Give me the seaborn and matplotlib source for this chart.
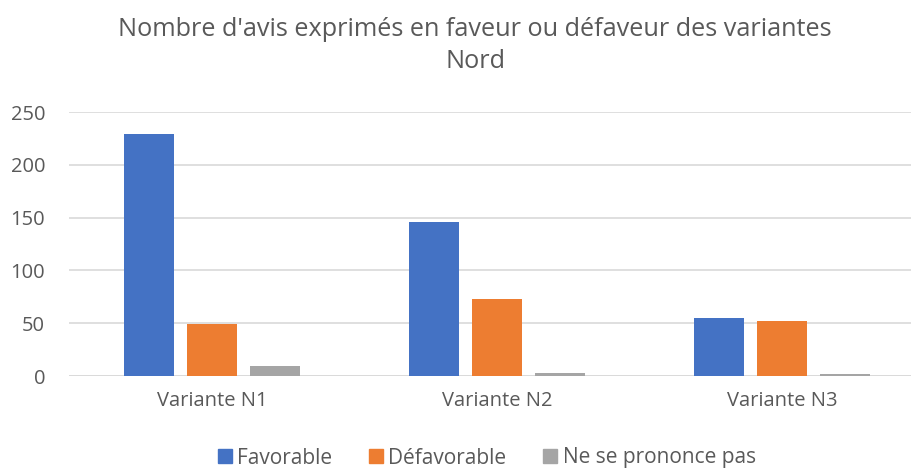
import matplotlib
matplotlib.use("Agg")
import matplotlib.pyplot as plt
import seaborn as sns
import pandas as pd
from matplotlib.lines import Line2D

categories = ["Variante N1", "Variante N2", "Variante N3"]
series = ["Favorable", "Défavorable", "Ne se prononce pas"]
favorable = [229, 146, 55]
defavorable = [49, 73, 52]
nsp = [9, 3, 2]
colors = ["#4472C4", "#ED7D31", "#A5A5A5"]

rows = []
for i, c in enumerate(categories):
    for s, vals in zip(series, [favorable, defavorable, nsp]):
        rows.append({"cat": c, "serie": s, "val": vals[i]})
df = pd.DataFrame(rows)

sns.set_theme(style="white")
plt.rcParams["font.family"] = ["Open Sans", "DejaVu Sans"]
txt = "#595959"

fig = plt.figure(figsize=(9.12, 4.70), dpi=100)
ax = fig.add_axes([69.5/912, 1-376/470, 855/912, (376-112)/470])
sns.barplot(data=df, x="cat", y="val", hue="serie", palette=colors,
            width=0.663, gap=0.2, ax=ax, legend=False, saturation=1, linewidth=0)

ax.set_ylim(0, 250)
ax.set_yticks([0, 50, 100, 150, 200, 250])
ax.yaxis.grid(True, color="#D9D9D9", linewidth=1.2)
ax.set_axisbelow(True)
for sp in ax.spines.values():
    sp.set_visible(False)
ax.set_xlabel("")
ax.set_ylabel("")
ax.tick_params(axis="y", length=0, pad=17.5, labelsize=14.5, labelcolor=txt)
ax.tick_params(axis="x", length=0, pad=11, labelsize=14.5, labelcolor=txt)
ax.axhline(0, color="#D9D9D9", linewidth=1.2, zorder=0.5)

fig.text(475/912, 1-30/470, "Nombre d'avis exprimés en faveur ou défaveur des variantes",
         ha="center", va="center", fontsize=18.2, color=txt)
fig.text(475/912, 1-62/470, "Nord", ha="center", va="center", fontsize=18.2, color=txt)

handles = [Line2D([], [], marker="s", linestyle="", markersize=10, color=c) for c in colors]
fig.legend(handles, series, loc="center", bbox_to_anchor=(485/912, 1-458/470), ncol=3,
           frameon=False, fontsize=15, labelcolor=txt, handletextpad=0.1,
           columnspacing=1.6, handlelength=1.0)

fig.savefig("out.png", dpi=100)
